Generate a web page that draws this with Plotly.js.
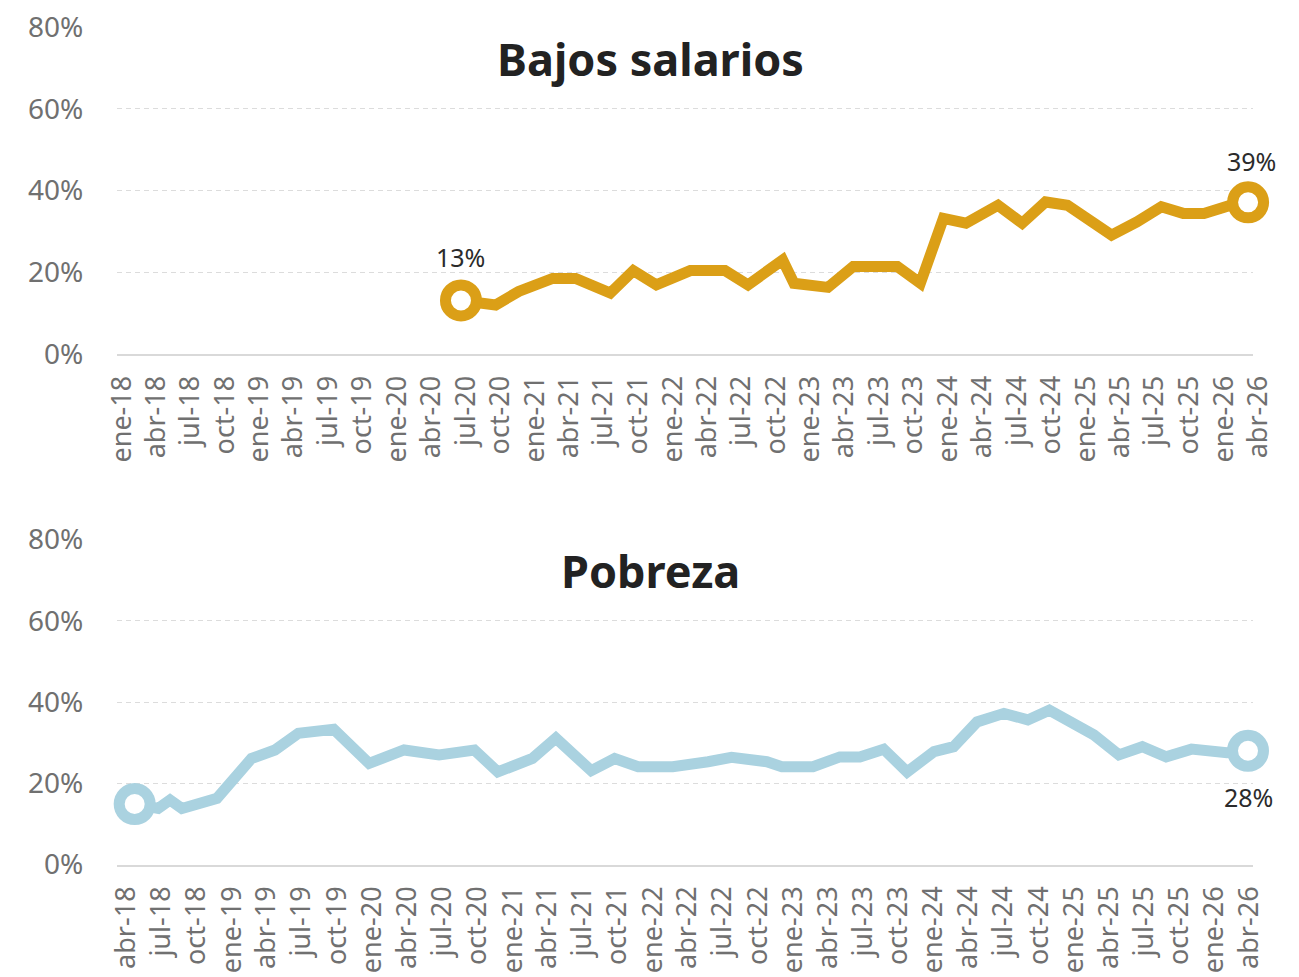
<!DOCTYPE html>
<html>
<head>
<meta charset="utf-8">
<script src="https://cdn.plot.ly/plotly-3.0.1.min.js"></script>
<style>
  html, body { margin: 0; padding: 0; background: #ffffff; }
  #chart { width: 1299px; height: 977px; }
</style>
</head>
<body>
<div id="chart"></div>
<script>
// ---- Data ----
const salariosDates = [
  '2020-07-01','2020-10-01','2020-12-01','2021-03-01','2021-05-01','2021-08-01',
  '2021-10-01','2021-12-01','2022-03-01','2022-06-01','2022-08-01','2022-11-01',
  '2022-12-01','2023-03-01','2023-05-07','2023-09-01','2023-11-01','2024-01-01',
  '2024-03-01','2024-05-25','2024-07-28','2024-09-28','2024-11-25','2025-03-22',
  '2025-05-28','2025-08-01','2025-09-28','2025-11-22','2026-02-01','2026-03-19'
];
const salariosValues = [
  13.1, 12.0, 15.3, 18.5, 18.5, 14.9,
  20.4, 16.9, 20.4, 20.4, 16.9, 23.0,
  17.3, 16.3, 21.4, 21.4, 17.3, 33.2,
  32.0, 36.4, 32.0, 37.2, 36.4, 29.1,
  32.3, 36.0, 34.4, 34.4, 36.4, 37.1
];
const salariosLabels = ['13%', '39%'];

const pobrezaDates = [
  '2018-05-01','2018-07-01','2018-08-01','2018-09-01','2018-12-01','2019-03-01',
  '2019-05-01','2019-07-01','2019-10-01','2020-01-01','2020-04-01','2020-07-01',
  '2020-10-01','2020-12-01','2021-03-01','2021-05-01','2021-08-01','2021-10-01',
  '2021-12-01','2022-03-01','2022-06-01','2022-08-01','2022-11-01','2022-12-10',
  '2023-03-01','2023-05-10','2023-07-01','2023-09-01','2023-11-01','2024-01-10',
  '2024-03-01','2024-05-01','2024-07-10','2024-09-10','2024-11-05','2025-03-01',
  '2025-05-05','2025-07-05','2025-09-05','2025-11-10','2026-02-10','2026-04-06'
];
const pobrezaValues = [
  14.9, 13.8, 15.9, 13.8, 16.3, 26.1,
  28.2, 32.3, 33.3, 24.9, 28.2, 27.0,
  28.2, 22.8, 26.1, 31.1, 23.1, 26.1,
  24.1, 24.1, 25.3, 26.4, 25.3, 24.1,
  24.1, 26.5, 26.5, 28.4, 22.8, 27.8,
  29.0, 35.1, 37.2, 35.6, 38.0, 31.9,
  27.0, 29.0, 26.5, 28.4, 27.5, 28.0
];
const pobrezaLabels = ['28%'];

// Quarterly tick positions and labels
const topTickDates = [
  '2018-01-01','2018-04-01','2018-07-01','2018-10-01','2019-01-01','2019-04-01','2019-07-01','2019-10-01',
  '2020-01-01','2020-04-01','2020-07-01','2020-10-01','2021-01-01','2021-04-01','2021-07-01','2021-10-01',
  '2022-01-01','2022-04-01','2022-07-01','2022-10-01','2023-01-01','2023-04-01','2023-07-01','2023-10-01',
  '2024-01-01','2024-04-01','2024-07-01','2024-10-01','2025-01-01','2025-04-01','2025-07-01','2025-10-01',
  '2026-01-01','2026-04-01'
];
const topTickLabels = [
  'ene-18','abr-18','jul-18','oct-18','ene-19','abr-19','jul-19','oct-19',
  'ene-20','abr-20','jul-20','oct-20','ene-21','abr-21','jul-21','oct-21',
  'ene-22','abr-22','jul-22','oct-22','ene-23','abr-23','jul-23','oct-23',
  'ene-24','abr-24','jul-24','oct-24','ene-25','abr-25','jul-25','oct-25',
  'ene-26','abr-26'
];
const bottomTickDates = topTickDates.slice(1);
const bottomTickLabels = topTickLabels.slice(1);

const yTicks = [0, 20, 40, 60, 80];
const titles = ['Bajos salarios', 'Pobreza'];

// ---- Styling ----
const GOLD = '#DB9F17';
const BLUE = '#AAD2E0';
const FAMILY = 'Noto Sans, Open Sans, sans-serif';
const TICKFONT = {family: FAMILY, size: 27, color: '#707070'};
const LABELFONT = {family: FAMILY, size: 25, color: '#2b2b2b'};

const first = a => a[0];
const last = a => a[a.length - 1];

const markerStyle = c => ({symbol: 'circle', size: 31, color: '#ffffff', line: {color: c, width: 11}});

const traces = [
  {x: salariosDates, y: salariosValues, xaxis: 'x', yaxis: 'y', type: 'scatter', mode: 'lines',
   line: {color: GOLD, width: 11}, hoverinfo: 'skip', cliponaxis: false},
  {x: [first(salariosDates), last(salariosDates)], y: [first(salariosValues), last(salariosValues)],
   xaxis: 'x', yaxis: 'y', type: 'scatter', mode: 'markers',
   marker: markerStyle(GOLD), cliponaxis: false, hoverinfo: 'skip'},
  {x: pobrezaDates, y: pobrezaValues, xaxis: 'x2', yaxis: 'y2', type: 'scatter', mode: 'lines',
   line: {color: BLUE, width: 11}, hoverinfo: 'skip', cliponaxis: false},
  {x: [first(pobrezaDates), last(pobrezaDates)], y: [first(pobrezaValues), last(pobrezaValues)],
   xaxis: 'x2', yaxis: 'y2', type: 'scatter', mode: 'markers',
   marker: markerStyle(BLUE), cliponaxis: false, hoverinfo: 'skip'}
];

const H = 977;
function dom(topPx, botPx) { return [(H - botPx) / H, (H - topPx) / H]; }

const xBase = {
  type: 'date', tickmode: 'array', tickangle: -90, tickfont: TICKFONT,
  showgrid: false, zeroline: false, showline: true, linecolor: '#d9d9d9', linewidth: 2,
  ticks: 'outside', ticklen: 9, tickcolor: 'rgba(0,0,0,0)', automargin: false, fixedrange: true
};
const yBase = {
  range: [0, 80], tickmode: 'array', tickvals: yTicks, ticktext: yTicks.map(v => v + '%'),
  tickfont: {family: FAMILY, size: 28, color: '#707070'},
  showgrid: true, gridcolor: '#dcdcdc', gridwidth: 1, griddash: '5px,4px',
  zeroline: false, showline: false, ticks: 'outside', ticklen: 27, tickcolor: 'rgba(0,0,0,0)',
  automargin: false, fixedrange: true
};

const titleFont = {family: FAMILY, size: 45, color: '#222222', weight: 700};

const annotations = [
  {text: titles[0], xref: 'paper', yref: 'paper', x: 0.47, y: (H - 58) / H,
   xanchor: 'center', yanchor: 'middle', showarrow: false, font: titleFont},
  {text: titles[1], xref: 'paper', yref: 'paper', x: 0.47, y: (H - 570) / H,
   xanchor: 'center', yanchor: 'middle', showarrow: false, font: titleFont},
  {text: salariosLabels[0], xref: 'x', yref: 'y', x: first(salariosDates), y: first(salariosValues),
   xanchor: 'center', yanchor: 'middle', yshift: 43, showarrow: false, font: LABELFONT},
  {text: salariosLabels[1], xref: 'x', yref: 'y', x: last(salariosDates), y: last(salariosValues),
   xanchor: 'center', yanchor: 'middle', yshift: 41, xshift: 3, showarrow: false, font: LABELFONT},
  {text: pobrezaLabels[0], xref: 'x2', yref: 'y2', x: last(pobrezaDates), y: last(pobrezaValues),
   xanchor: 'center', yanchor: 'middle', yshift: -46, showarrow: false, font: LABELFONT}
];

const layout = {
  width: 1299, height: 977,
  margin: {l: 117, r: 46, t: 0, b: 0},
  paper_bgcolor: '#ffffff', plot_bgcolor: '#ffffff',
  showlegend: false,
  xaxis: Object.assign({}, xBase, {anchor: 'y', range: ['2018-01-01', '2026-04-01'],
    tickvals: topTickDates, ticktext: topTickLabels, ticklabelshift: 5}),
  yaxis: Object.assign({}, yBase, {anchor: 'x', domain: dom(27, 354)}),
  xaxis2: Object.assign({}, xBase, {anchor: 'y2', range: ['2018-03-16', '2026-04-19'],
    tickvals: bottomTickDates, ticktext: bottomTickLabels, ticklabelshift: 3}),
  yaxis2: Object.assign({}, yBase, {anchor: 'x2', domain: dom(539.4, 864.6)}),
  annotations: annotations
};

Plotly.newPlot('chart', traces, layout, {displayModeBar: false, staticPlot: true});
</script>
</body>
</html>
